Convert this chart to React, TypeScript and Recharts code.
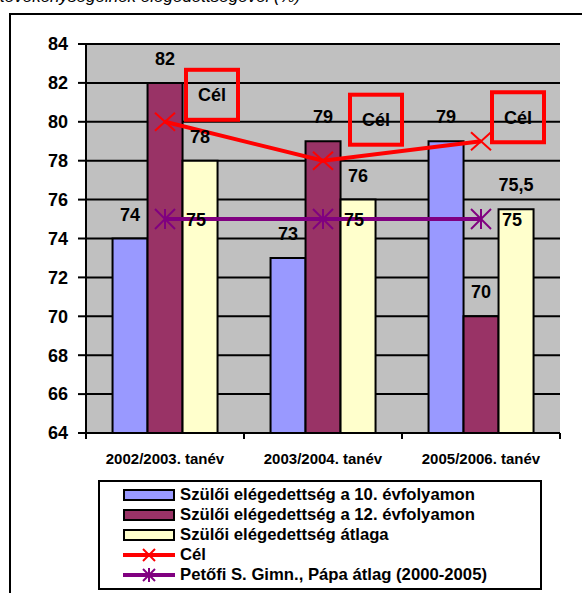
import { Bar, CartesianGrid, ComposedChart, LabelList, Line, XAxis, YAxis } from 'recharts';

const categories = ['2002/2003. tanév', '2003/2004. tanév', '2005/2006. tanév'];
const grade10 = [74, 73, 79];
const grade12 = [82, 79, 70];
const average = [78, 76, 75.5];
const target = [80, 78, 79];
const schoolAverage = [75, 75, 75];
const yTicks = [64, 66, 68, 70, 72, 74, 76, 78, 80, 82, 84];

const NAME_10 = 'Szülői elégedettség a 10. évfolyamon';
const NAME_12 = 'Szülői elégedettség a 12. évfolyamon';
const NAME_AVG = 'Szülői elégedettség átlaga';
const NAME_TARGET = 'Cél';
const NAME_SCHOOL = 'Petőfi S. Gimn., Pápa átlag (2000-2005)';

const data = categories.map((cat, i) => ({
  cat,
  g10: grade10[i],
  g12: grade12[i],
  avg: average[i],
  target: target[i],
  school: schoolAverage[i],
}));

const FONT = 'Arial, "Liberation Sans", sans-serif';
const CHART_W = 582;
const CHART_H = 470;
const PLOT_LEFT = 86;
const PLOT_RIGHT = 560;
const HALF_BAND = (PLOT_RIGHT - PLOT_LEFT) / categories.length / 2;

// where the "Cél" box sits relative to each target point
const TARGET_BOX_OFFSETS = [
  [47, -27],
  [53, -41],
  [37, -24],
];

const fmt = (v: number) => String(v).replace('.', ',');

function CrossDot(props: any) {
  const { cx, cy, index } = props;
  if (cx == null || cy == null) return <g key={`x-${index}`} />;
  return (
    <g key={`x-${index}`} stroke="#FF0000" strokeWidth={2}>
      <line x1={cx - 10} y1={cy - 9} x2={cx + 10} y2={cy + 9} />
      <line x1={cx - 10} y1={cy + 9} x2={cx + 10} y2={cy - 9} />
    </g>
  );
}

function StarDot(props: any) {
  const { cx, cy, index } = props;
  if (cx == null || cy == null) return <g key={`s-${index}`} />;
  return (
    <g key={`s-${index}`} stroke="#800080" strokeWidth={2}>
      <line x1={cx - 10} y1={cy - 10} x2={cx + 10} y2={cy + 10} />
      <line x1={cx - 10} y1={cy + 10} x2={cx + 10} y2={cy - 10} />
      <line x1={cx} y1={cy - 10} x2={cx} y2={cy + 10} />
    </g>
  );
}

function pointOf(p: any) {
  const vb = p.viewBox || {};
  return { x: p.x ?? vb.x, y: p.y ?? vb.y };
}

function TargetBox(p: any) {
  const { x, y } = pointOf(p);
  if (x == null || y == null) return null;
  const [dx, dy] = TARGET_BOX_OFFSETS[p.index] || [45, -30];
  const cx = x + dx;
  const cy = y + dy;
  return (
    <g>
      <rect x={cx - 26} y={cy - 25} width={52} height={50} fill="none" stroke="#FF0000" strokeWidth={4} />
      <text x={cx} y={cy} dy="0.36em" textAnchor="middle" fontFamily={FONT} fontWeight="bold" fontSize={18} fill="#000">
        {NAME_TARGET}
      </text>
    </g>
  );
}

function SchoolLabel(p: any) {
  const { x, y } = pointOf(p);
  if (x == null || y == null) return null;
  return (
    <text x={x + 21} y={y} dy="0.36em" fontFamily={FONT} fontWeight="bold" fontSize={18} fill="#000">
      {fmt(p.value)}
    </text>
  );
}

function CategoryTick(props: any) {
  const { x, y, payload, index } = props;
  return (
    <g>
      <line x1={x - HALF_BAND} y1={y} x2={x - HALF_BAND} y2={y + 6} stroke="#000" strokeWidth={2} />
      {index === categories.length - 1 && (
        <line x1={x + HALF_BAND} y1={y} x2={x + HALF_BAND} y2={y + 6} stroke="#000" strokeWidth={2} />
      )}
      <text x={x} y={y + 31} textAnchor="middle" fontFamily={FONT} fontWeight="bold" fontSize={15} fill="#000">
        {payload.value}
      </text>
    </g>
  );
}

const barLabelStyle = { fontFamily: FONT, fontWeight: 'bold', fontSize: 18, fill: '#000' };

const legendItems = [
  { name: NAME_10, kind: 'bar', color: '#9999FF' },
  { name: NAME_12, kind: 'bar', color: '#993366' },
  { name: NAME_AVG, kind: 'bar', color: '#FFFFCC' },
  { name: NAME_TARGET, kind: 'cross', color: '#FF0000' },
  { name: NAME_SCHOOL, kind: 'star', color: '#800080' },
];

function LegendSwatch({ kind, color }: { kind: string; color: string }) {
  if (kind === 'bar') {
    return (
      <svg width={52} height={14} style={{ display: 'block' }}>
        <rect x={1} y={2} width={50} height={10} fill={color} stroke="#000" strokeWidth={2} />
      </svg>
    );
  }
  return (
    <svg width={52} height={20} style={{ display: 'block' }}>
      <line x1={0} y1={10} x2={52} y2={10} stroke={color} strokeWidth={4} />
      <g stroke={color} strokeWidth={2}>
        <line x1={20} y1={4} x2={32} y2={16} />
        <line x1={20} y1={16} x2={32} y2={4} />
        {kind === 'star' && <line x1={26} y1={3} x2={26} y2={17} />}
      </g>
    </svg>
  );
}

export default function App() {
  return (
    <div style={{ position: 'fixed', left: 0, top: 0, width: 582, height: 593, overflow: 'hidden', background: '#fff' }}>
      <div
        style={{
          position: 'absolute',
          left: 0,
          top: -12,
          fontFamily: FONT,
          fontStyle: 'italic',
          fontSize: 17,
          lineHeight: '17px',
          whiteSpace: 'nowrap',
        }}
      >
        tevékenységeinek elégedettségével (%)
      </div>
      <div
        style={{
          position: 'absolute',
          left: 9,
          top: 13,
          width: 620,
          height: 620,
          borderLeft: '2px solid #000',
          borderTop: '2px solid #000',
        }}
      />
      <div style={{ position: 'absolute', left: 0, top: 0 }}>
        <ComposedChart
          width={CHART_W}
          height={CHART_H}
          data={data}
          margin={{ top: 44, right: CHART_W - PLOT_RIGHT, bottom: 0, left: 0 }}
          barGap={0}
          barCategoryGap="16.8%"
        >
          <CartesianGrid vertical={false} stroke="#000" strokeWidth={2} fill="#C0C0C0" fillOpacity={1} />
          <XAxis
            dataKey="cat"
            height={37}
            tickLine={false}
            tickSize={0}
            tickMargin={0}
            axisLine={{ stroke: '#000', strokeWidth: 2 }}
            tick={<CategoryTick />}
            interval={0}
          />
          <XAxis xAxisId="top" dataKey="cat" orientation="top" height={0} tick={false} tickLine={false} axisLine={{ stroke: '#808080', strokeWidth: 3 }} />
          <YAxis
            domain={[64, 84]}
            ticks={yTicks}
            width={PLOT_LEFT}
            interval={0}
            tickSize={8}
            tickMargin={10}
            tickLine={{ stroke: '#000', strokeWidth: 2 }}
            axisLine={{ stroke: '#000', strokeWidth: 2 }}
            tick={{ fill: '#000', fontFamily: FONT, fontWeight: 'bold', fontSize: 18 }}
            allowDataOverflow
          />
          <YAxis yAxisId="right" orientation="right" width={0} domain={[64, 84]} tick={false} tickLine={false} axisLine={{ stroke: '#808080', strokeWidth: 3 }} />
          <Bar dataKey="g10" name={NAME_10} fill="#9999FF" stroke="#000" strokeWidth={2} isAnimationActive={false}>
            <LabelList dataKey="g10" position="top" offset={18} formatter={fmt} style={barLabelStyle} />
          </Bar>
          <Bar dataKey="g12" name={NAME_12} fill="#993366" stroke="#000" strokeWidth={2} isAnimationActive={false}>
            <LabelList dataKey="g12" position="top" offset={18} formatter={fmt} style={barLabelStyle} />
          </Bar>
          <Bar dataKey="avg" name={NAME_AVG} fill="#FFFFCC" stroke="#000" strokeWidth={2} isAnimationActive={false}>
            <LabelList dataKey="avg" position="top" offset={18} formatter={fmt} style={barLabelStyle} />
          </Bar>
          <Line
            dataKey="target"
            name={NAME_TARGET}
            stroke="#FF0000"
            strokeWidth={4}
            dot={CrossDot}
            activeDot={false}
            isAnimationActive={false}
          >
            <LabelList dataKey="target" content={TargetBox} />
          </Line>
          <Line
            dataKey="school"
            name={NAME_SCHOOL}
            stroke="#800080"
            strokeWidth={4}
            dot={StarDot}
            activeDot={false}
            isAnimationActive={false}
          >
            <LabelList dataKey="school" content={SchoolLabel} />
          </Line>
        </ComposedChart>
      </div>
      <div
        style={{
          position: 'absolute',
          left: 98,
          top: 480,
          width: 444,
          height: 110,
          boxSizing: 'border-box',
          border: '2px solid #000',
          background: '#fff',
          paddingTop: 3,
          paddingLeft: 23,
        }}
      >
        {legendItems.map((item) => (
          <div key={item.name} style={{ display: 'flex', alignItems: 'center', height: 20 }}>
            <LegendSwatch kind={item.kind} color={item.color} />
            <span style={{ fontFamily: FONT, fontWeight: 'bold', fontSize: 16.7, marginLeft: 5, whiteSpace: 'nowrap' }}>
              {item.name}
            </span>
          </div>
        ))}
      </div>
    </div>
  );
}
